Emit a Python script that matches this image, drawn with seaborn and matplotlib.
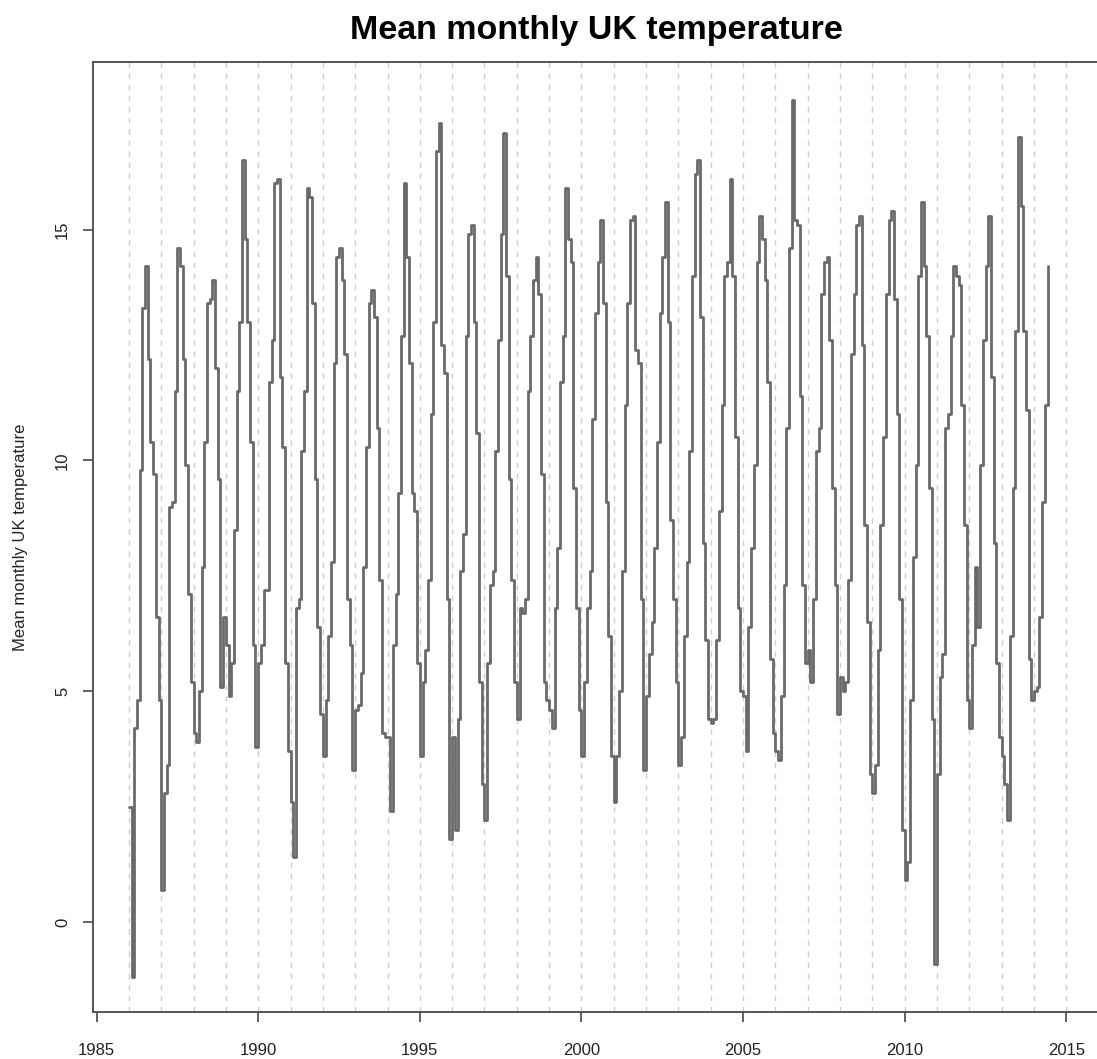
import numpy as np
import pandas as pd
import seaborn as sns
import matplotlib
matplotlib.use("Agg")
import matplotlib.pyplot as plt

# Mean monthly UK temperature (deg C), Jan 1986 - Jun 2014
t1986 = [2.5, -1.2, 4.2, 4.8, 9.8, 13.3, 14.2, 12.2, 10.4, 9.7, 6.6, 4.8]
t1987 = [0.7, 2.8, 3.4, 9.0, 9.1, 11.5, 14.6, 14.2, 12.2, 9.9, 7.1, 5.2]
t1988 = [4.1, 3.9, 5.0, 7.7, 10.4, 13.4, 13.5, 13.9, 12.0, 9.6, 5.1, 6.6]
t1989 = [6.0, 4.9, 5.6, 8.5, 11.5, 13.0, 16.5, 14.8, 13.0, 10.4, 6.0, 3.8]
t1990 = [5.6, 6.0, 7.2, 7.2, 11.7, 12.6, 16.0, 16.1, 11.8, 10.3, 5.6, 3.7]
t1991 = [2.6, 1.4, 6.8, 7.0, 10.2, 11.5, 15.9, 15.7, 13.4, 9.6, 6.4, 4.5]
t1992 = [3.6, 4.8, 6.2, 7.8, 12.1, 14.4, 14.6, 13.9, 12.3, 7.0, 6.0, 3.3]
t1993 = [4.6, 4.7, 5.4, 7.7, 10.3, 13.4, 13.7, 13.1, 10.7, 7.4, 4.1, 4.0]
t1994 = [4.0, 2.4, 6.0, 7.1, 9.3, 12.7, 16.0, 14.4, 12.1, 9.3, 8.9, 5.6]
t1995 = [3.6, 5.2, 5.9, 7.4, 11.0, 13.0, 16.7, 17.3, 12.5, 11.9, 7.0, 1.8]
t1996 = [4.0, 2.0, 4.4, 7.6, 8.4, 12.7, 14.9, 15.1, 13.0, 10.6, 5.2, 3.0]
t1997 = [2.2, 5.6, 7.3, 7.6, 10.2, 12.6, 14.9, 17.1, 14.0, 9.6, 7.4, 5.2]
t1998 = [4.4, 6.8, 6.7, 7.0, 11.5, 12.7, 13.9, 14.4, 13.6, 9.7, 5.2, 4.8]
t1999 = [4.6, 4.2, 6.8, 8.1, 11.7, 12.7, 15.9, 14.8, 14.3, 9.4, 6.8, 4.6]
t2000 = [3.6, 5.2, 6.8, 7.6, 10.9, 13.2, 14.3, 15.2, 13.4, 9.1, 6.2, 3.6]
t2001 = [2.6, 3.6, 5.0, 7.6, 11.2, 13.4, 15.2, 15.3, 12.4, 12.1, 7.0, 3.3]
t2002 = [4.9, 5.8, 6.5, 8.1, 10.4, 13.2, 14.4, 15.6, 13.0, 8.7, 7.0, 5.2]
t2003 = [3.4, 4.0, 6.2, 7.8, 10.2, 14.0, 16.2, 16.5, 13.1, 8.2, 6.1, 4.4]
t2004 = [4.3, 4.4, 6.1, 8.9, 11.2, 14.0, 14.3, 16.1, 14.0, 10.5, 6.8, 5.0]
t2005 = [4.9, 3.7, 6.4, 8.1, 9.9, 14.3, 15.3, 14.8, 13.9, 11.7, 5.7, 4.1]
t2006 = [3.7, 3.5, 4.9, 7.3, 10.7, 14.6, 17.8, 15.2, 15.1, 11.4, 7.3, 5.6]
t2007 = [5.9, 5.2, 7.0, 10.2, 10.7, 13.6, 14.3, 14.4, 12.6, 9.4, 7.3, 4.5]
t2008 = [5.3, 5.0, 5.2, 7.4, 12.3, 13.6, 15.1, 15.3, 12.5, 8.6, 6.5, 3.2]
t2009 = [2.8, 3.4, 5.9, 8.6, 10.5, 13.6, 15.2, 15.4, 13.5, 11.0, 7.0, 2.0]
t2010 = [0.9, 1.3, 4.8, 7.9, 9.9, 14.0, 15.6, 14.2, 12.7, 9.4, 4.4, -0.9]
t2011 = [3.2, 5.3, 5.8, 10.7, 11.0, 12.7, 14.2, 14.0, 13.8, 11.2, 8.6, 4.8]
t2012 = [4.2, 6.0, 7.7, 6.4, 9.9, 12.6, 14.2, 15.3, 11.8, 8.2, 5.6, 4.0]
t2013 = [3.6, 3.0, 2.2, 6.2, 9.4, 12.8, 17.0, 15.5, 12.8, 11.1, 5.7, 4.8]
t2014 = [5.0, 5.1, 6.6, 9.1, 11.2, 14.2]

start_year = 1986
x_tick_years = [1985, 1990, 1995, 2000, 2005, 2010, 2015]
y_ticks = [0, 5, 10, 15]
grid_years = list(range(1986, 2016))

title_text = "Mean monthly UK temperature"
ylabel_text = "Mean monthly UK temperature"

temps = (t1986 + t1987 + t1988 + t1989 + t1990 + t1991 + t1992 + t1993 + t1994 +
         t1995 + t1996 + t1997 + t1998 + t1999 + t2000 + t2001 + t2002 + t2003 +
         t2004 + t2005 + t2006 + t2007 + t2008 + t2009 + t2010 + t2011 + t2012 +
         t2013 + t2014)
time = start_year + np.arange(len(temps)) / 12.0
df = pd.DataFrame({"time": time, "temp": temps})

sns.set_style("white")
plt.rcParams["font.family"] = ["Liberation Sans", "DejaVu Sans"]

W, H = 1097, 1059
fig = plt.figure(figsize=(W / 100, H / 100), dpi=100)
left, right, top, bottom = 93, 1100, 62, 1012
ax = fig.add_axes([left / W, 1 - bottom / H, (right - left) / W, (bottom - top) / H])

for gy in grid_years:
    ax.axvline(gy, color="#cfcfcf", lw=1.0, dashes=(4, 4), zorder=0)

sns.lineplot(data=df, x="time", y="temp", ax=ax, color="#6a6a6a", linewidth=2.0,
             drawstyle="steps-post", estimator=None, sort=False, zorder=3)

ax.set_xlim(1984.89, 2016.04)
ax.set_ylim(-1.95, 18.63)
ax.set_xticks(x_tick_years)
ax.set_xticklabels([str(y) for y in x_tick_years], fontsize=12, color="#222222")
ax.set_yticks(y_ticks)
ax.set_yticklabels([str(v) for v in y_ticks], fontsize=12, color="#222222",
                   rotation=90, va="center")
ax.tick_params(axis="both", direction="out", length=7.5, width=1.3, color="#555555",
               bottom=True, left=True, top=False, right=False)
ax.tick_params(axis="x", pad=15)
ax.tick_params(axis="y", pad=9)
ax.set_xlabel("")
ax.set_ylabel("")
for sp in ax.spines.values():
    sp.set_color("#555555")
    sp.set_linewidth(1.4)

fig.text(((left + right) / 2) / W, 1 - 39 / H, title_text, ha="center", va="baseline",
         fontsize=24.5, fontweight="bold", color="black")
fig.text(21 / W, 1 - ((top + bottom) / 2) / H, ylabel_text, rotation=90,
         ha="center", va="center", fontsize=12, color="#222222")

fig.savefig("out.png", dpi=100)
